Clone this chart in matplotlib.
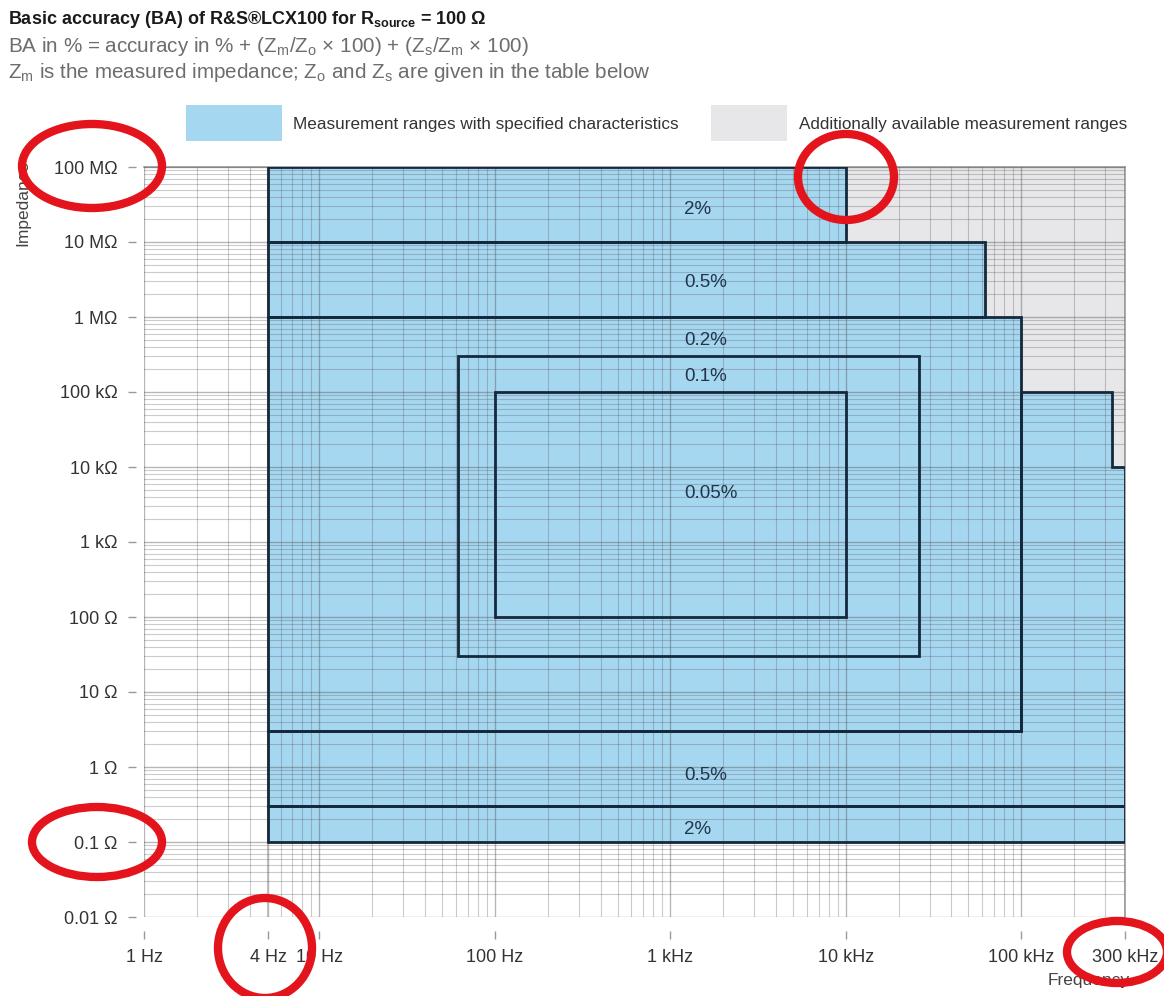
import numpy as np
import matplotlib.pyplot as plt
from matplotlib.patches import Rectangle, Ellipse
from matplotlib.ticker import LogLocator, NullFormatter

plt.rcParams['font.family'] = ['Liberation Sans', 'DejaVu Sans']
plt.rcParams['mathtext.fontset'] = 'custom'
plt.rcParams['mathtext.rm'] = 'Liberation Sans'
plt.rcParams['mathtext.bf'] = 'Liberation Sans:bold'

W, H = 1164, 996

# axis ranges (Hz, Ohm)
f_min, f_max = 1, 3.9e5
z_min, z_max = 0.01, 1e8
# lower frequency limit as drawn in the picture (labelled "4 Hz")
f_start = 5.1

freq_ticks = [1, f_start, 10, 100, 1e3, 1e4, 1e5, f_max]
freq_labels = ["1 Hz", "4 Hz", "10 Hz", "100 Hz", "1 kHz", "10 kHz", "100 kHz", "300 kHz"]
imp_ticks = [1e8, 1e7, 1e6, 1e5, 1e4, 1e3, 100, 10, 1, 0.1, 0.01]
imp_labels = ["100 MΩ", "10 MΩ", "1 MΩ", "100 kΩ", "10 kΩ", "1 kΩ",
              "100 Ω", "10 Ω", "1 Ω", "0.1 Ω", "0.01 Ω"]

# additionally available measurement range (gray)
avail_f = [f_start, f_max]
avail_z = [0.1, 1e8]

# accuracy ranges: outline corners (frequency, impedance)
range_names = ["2%", "0.5%", "0.2%", "0.1%", "0.05%", "0.5%", "2%"]
range_f = [
    [f_start, 1e4, 1e4, f_start],
    [f_start, 6.2e4, 6.2e4, f_start],
    [f_start, 1e5, 1e5, f_start],
    [62, 2.6e4, 2.6e4, 62],
    [100, 1e4, 1e4, 100],
    [f_start, f_max, f_max, 3.3e5, 3.3e5, 1e5, 1e5, f_start],
    [f_start, f_max, f_max, f_start],
]
range_z = [
    [1e7, 1e7, 1e8, 1e8],
    [1e6, 1e6, 1e7, 1e7],
    [3, 3, 1e6, 1e6],
    [30, 30, 3e5, 3e5],
    [100, 100, 1e5, 1e5],
    [0.3, 0.3, 1e4, 1e4, 1e5, 1e5, 3, 3],
    [0.1, 0.1, 0.3, 0.3],
]
label_f = [1.2e3, 1.2e3, 1.2e3, 1.2e3, 1.2e3, 1.2e3, 1.2e3]
label_z = [2.75e7, 2.85e6, 4.9e5, 1.6e5, 4.5e3, 0.76, 0.145]

blue = '#a6d7f1'
gray = '#e7e7e9'
edge = '#14293c'


def fig_xy(x, y):
    return x / W, 1 - y / H


fig = plt.figure(figsize=(W / 100, H / 100), dpi=100)
ax = fig.add_axes([144 / W, 1 - 917 / H, (1125 - 144) / W, (917 - 167) / H])
ax.set_xscale('log')
ax.set_yscale('log')
ax.set_xlim(f_min, f_max)
ax.set_ylim(z_min, z_max)

ax.fill([avail_f[0], avail_f[1], avail_f[1], avail_f[0]],
        [avail_z[0], avail_z[0], avail_z[1], avail_z[1]], color=gray, lw=0, zorder=0.5)

for fs, zs in zip(range_f, range_z):
    ax.fill(fs, zs, color=blue, lw=0, zorder=1)
for fs, zs in zip(range_f, range_z):
    ax.fill(fs, zs, fill=False, ec=edge, lw=2, zorder=3)
for name, fx, zy in zip(range_names, label_f, label_z):
    ax.text(fx, zy, name, ha='left', va='center', fontsize=13.5, color='#22364a', zorder=4)

# grid
ax.set_axisbelow(False)
ax.xaxis.set_minor_locator(LogLocator(base=10, subs=np.arange(2, 10), numticks=100))
ax.yaxis.set_minor_locator(LogLocator(base=10, subs=np.arange(2, 10), numticks=100))
ax.xaxis.set_minor_formatter(NullFormatter())
ax.yaxis.set_minor_formatter(NullFormatter())
ax.grid(True, which='major', color='#555555', alpha=0.42, lw=1.0)
ax.grid(True, which='minor', color='#555555', alpha=0.3, lw=0.8)

ax.set_xticks(freq_ticks)
ax.set_xticklabels(freq_labels)
ax.set_yticks(imp_ticks)
ax.set_yticklabels(imp_labels)
ax.tick_params(which='minor', length=0)
ax.tick_params(which='major', length=6, width=1, color='#999999',
               labelsize=13, labelcolor='#333333', pad=7)

ax.spines['left'].set_position(('outward', 6))
ax.spines['bottom'].set_position(('outward', 10))
ax.spines['left'].set_visible(False)
ax.spines['bottom'].set_visible(False)
for s in ['top', 'right']:
    ax.spines[s].set_color('#9a9a9a')
    ax.spines[s].set_linewidth(1.2)

ax.text(-0.123, 1.01, "Impedance", transform=ax.transAxes, rotation=90,
        ha='center', va='top', fontsize=12.5, color='#444444')
ax.text(1.005, -0.085, "Frequency", transform=ax.transAxes,
        ha='right', va='center', fontsize=12.5, color='#444444')

# titles
fig.text(*fig_xy(8, 20), r"Basic accuracy (BA) of R&S®LCX100 for R$_{\mathbf{source}}$ = 100 Ω",
         fontsize=13, fontweight='bold', color='#1a1a1a', va='center')
fig.text(*fig_xy(8, 47),
         r"BA in % = accuracy in % + (Z$_\mathregular{m}$/Z$_\mathregular{o}$ × 100) + (Z$_\mathregular{s}$/Z$_\mathregular{m}$ × 100)",
         fontsize=14.9, color='#6d6d6d', va='center')
fig.text(*fig_xy(8, 73),
         r"Z$_\mathregular{m}$ is the measured impedance; Z$_\mathregular{o}$ and Z$_\mathregular{s}$ are given in the table below",
         fontsize=14.9, color='#6d6d6d', va='center')

# legend
fig.add_artist(Rectangle(fig_xy(186, 141), 96 / W, 36 / H, transform=fig.transFigure,
                         color=blue, lw=0))
fig.text(*fig_xy(293, 124), "Measurement ranges with specified characteristics",
         fontsize=12.3, color='#333333', va='center')
fig.add_artist(Rectangle(fig_xy(711, 141), 76 / W, 36 / H, transform=fig.transFigure,
                         color=gray, lw=0))
fig.text(*fig_xy(799, 124), "Additionally available measurement ranges",
         fontsize=12.3, color='#333333', va='center')

# red highlight circles
circles = [(92, 166, 140, 84), (846, 177, 96, 86), (97, 842, 130, 70),
           (265, 948, 94, 100), (1117, 952, 100, 62)]
for cx, cy, w, h in circles:
    fig.add_artist(Ellipse(fig_xy(cx, cy), w / W, h / H, transform=fig.transFigure,
                           fill=False, ec='#e3141c', lw=6, zorder=10))

fig.savefig("out.png", dpi=100)
